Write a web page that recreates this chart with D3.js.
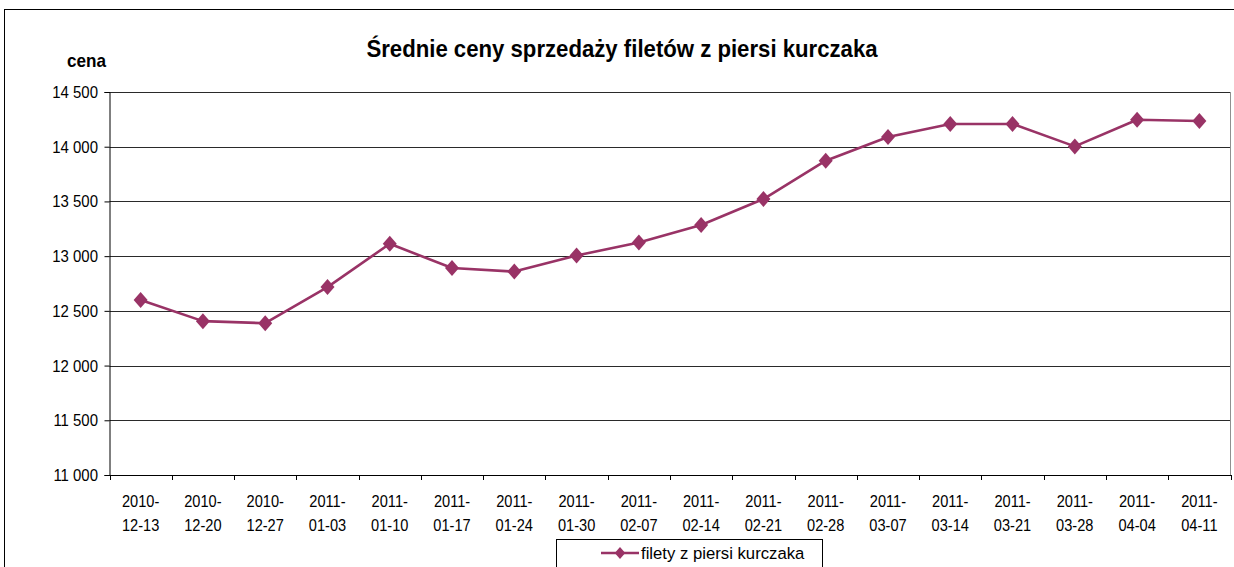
<!DOCTYPE html>
<html><head><meta charset="utf-8">
<script src="https://cdn.jsdelivr.net/npm/d3@7"></script>
<style>body{margin:0;background:#fff}svg{display:block}text{font-family:"Liberation Sans",Arial,sans-serif;fill:#000}</style>
</head><body><svg id="c" width="1234" height="567"></svg>
<script>
const categories = ["2010-12-13","2010-12-20","2010-12-27","2011-01-03","2011-01-10","2011-01-17","2011-01-24","2011-01-30","2011-02-07","2011-02-14","2011-02-21","2011-02-28","2011-03-07","2011-03-14","2011-03-21","2011-03-28","2011-04-04","2011-04-11"];
const values = [12600,12406,12387,12717,13113,12891,12859,13006,13125,13284,13522,13872,14089,14208,14208,14003,14247,14235];
const yTicks = [11000,11500,12000,12500,13000,13500,14000,14500];
const seriesName = "filety z piersi kurczaka";
const title = "Średnie ceny sprzedaży filetów z piersi kurczaka";
const yTitle = "cena";

const svg = d3.select("#c");
const L = 109.5, R = 1230.5, T = 92, B = 475;
const color = "#993366";
const x = d3.scaleBand().domain(categories).range([L, R]);
const y = d3.scaleLinear().domain([11000, 14500]).range([B, T]);
const fmt = v => d3.format(",")(v).replace(",", " ");

// fit text element horizontally to a target width
function fit(g, txt, w, tx, ty) {
  const bw = txt.node().getBBox().width;
  g.attr("transform", `translate(${tx},${ty}) scale(${w/bw},1)`);
}

// outer border
svg.append("rect").attr("x",4.5).attr("y",9.5).attr("width",1260).attr("height",600)
  .attr("fill","none").attr("stroke","#000").attr("stroke-width",1);

// gridlines
svg.append("g").selectAll("line").data(yTicks.filter(t=>t>11000)).join("line")
  .attr("x1",L).attr("x2",R).attr("y1",d=>Math.round(y(d))+0.5).attr("y2",d=>Math.round(y(d))+0.5)
  .attr("stroke","#2a2a2a").attr("stroke-width",1);
// plot right border
svg.append("line").attr("x1",R).attr("x2",R).attr("y1",T).attr("y2",B).attr("stroke","#909090");

// y axis
const ya = svg.append("g").attr("transform",`translate(${L},0)`)
  .call(d3.axisLeft(y).tickValues(yTicks).tickSize(5).tickFormat(""));
ya.selectAll("path,line").attr("stroke","#000");
svg.append("g").selectAll("g").data(yTicks).join("g")
  .attr("transform",d=>`translate(98,${y(d)+6}) scale(0.88,1)`)
  .append("text").attr("text-anchor","end").style("font-size","17px").text(fmt);

// x axis
const xa = svg.append("g").attr("transform",`translate(0,${B})`)
  .call(d3.axisBottom(x).tickSize(0).tickFormat(""));
xa.select("path").attr("stroke","#000");
svg.append("g").selectAll("line").data(d3.range(categories.length+1)).join("line")
  .attr("x1",i=>Math.round(L + i*x.step())+0.5).attr("x2",i=>Math.round(L + i*x.step())+0.5)
  .attr("y1",B).attr("y2",B+5).attr("stroke","#000");
const xl = svg.append("g").selectAll("g").data(categories).join("g")
  .attr("transform",d=>`translate(${x(d)+x.bandwidth()/2},0) scale(0.86,1)`);
xl.append("text").attr("y",507).attr("text-anchor","middle").style("font-size","17px").text(d=>d.slice(0,5));
xl.append("text").attr("y",531).attr("text-anchor","middle").style("font-size","17px").text(d=>d.slice(5));

// line
const cx = d => x(d)+x.bandwidth()/2;
svg.append("path").datum(values.map((v,i)=>[categories[i],v]))
  .attr("fill","none").attr("stroke",color).attr("stroke-width",2.6).attr("stroke-linejoin","round")
  .attr("d",d3.line().x(d=>cx(d[0])).y(d=>y(d[1])));
const diamond = "M0,-8L7,0L0,8L-7,0Z";
svg.append("g").selectAll("path").data(values).join("path")
  .attr("transform",(v,i)=>`translate(${cx(categories[i])},${y(v)})`)
  .attr("d",diamond).attr("fill",color);

// title
const tt = svg.append("g");
const tn = tt.append("text").attr("text-anchor","middle").style("font-size","24px").style("font-weight","bold").text(title);
fit(tt, tn, 512, 622, 57);

const cg = svg.append("g");
const cn = cg.append("text").style("font-size","18px").style("font-weight","bold").text(yTitle);
fit(cg, cn, 40, 67, 67);

// legend
const lg = svg.append("g");
lg.append("rect").attr("x",556.5).attr("y",539.5).attr("width",266).attr("height",40)
  .attr("fill","#fff").attr("stroke","#000");
lg.append("line").attr("x1",601).attr("x2",639).attr("y1",553).attr("y2",553).attr("stroke",color).attr("stroke-width",2.6);
lg.append("path").attr("transform","translate(620,553) scale(0.75)").attr("d",diamond).attr("fill",color);
const lt = lg.append("g");
const ltn = lt.append("text").style("font-size","17px").text(seriesName);
fit(lt, ltn, 164, 641, 559);
</script></body></html>
